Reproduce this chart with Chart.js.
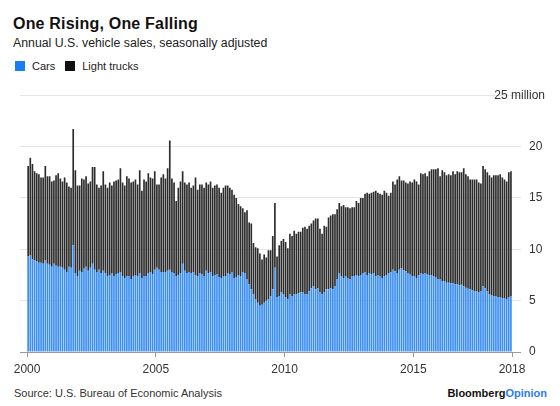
<!DOCTYPE html>
<html>
<head>
<meta charset="utf-8">
<script src="https://cdn.jsdelivr.net/npm/chart.js@4.4.1/dist/chart.umd.min.js"></script>
<style>
    body { margin: 0; width: 560px; height: 406px; background: #fff; position: relative; overflow: hidden;
           font-family: 'Liberation Sans', Arial, sans-serif; color: #222; }
    .txt { position: absolute; line-height: 1; white-space: nowrap; }
    #title { left: 13px; top: 15.8px; font-size: 16px; font-weight: bold; letter-spacing: 0.2px; color: #111; }
    #subtitle { left: 13px; top: 37.3px; font-size: 12.3px; color: #222; }
    #legend { left: 15px; top: 61.2px; font-size: 11px; color: #222; }
    #legend .sw { display: inline-block; width: 10px; height: 10px; vertical-align: -1px; margin-right: 7px; }
    #source { left: 14px; top: 387.5px; font-size: 11px; color: #333; }
    #brand { right: 13px; top: 387.5px; font-size: 11px; font-weight: bold; color: #111; }
    #brand span { color: #2b7bf3; }
    #wrap { position: absolute; left: 0; top: 80px; width: 560px; height: 300px; }
</style>
</head>
<body>
<div class="txt" id="title">One Rising, One Falling</div>
<div class="txt" id="subtitle">Annual U.S. vehicle sales, seasonally adjusted</div>
<div class="txt" id="legend"><span class="sw" style="background:#1a7cf5"></span>Cars<span class="sw" style="background:#111;margin-left:10px"></span>Light trucks</div>
<div id="wrap"><canvas id="chart"></canvas></div>
<div class="txt" id="source">Source: U.S. Bureau of Economic Analysis</div>
<div class="txt" id="brand">Bloomberg<span>Opinion</span></div>

<script>
// monthly, Jan 2000 - Oct 2018, millions of units (SAAR)
const startYear = 2000;
const yearTicks = [2000, 2005, 2010, 2015, 2018];

const cars = [
    9.3, 9.4, 9.0, 8.9, 8.8, 8.7, 8.7, 8.6, 8.9, 8.6, 8.5, 8.3,
    8.6, 8.4, 8.3, 8.3, 8.2, 8.0, 7.8, 8.3, 8.2, 10.4, 7.7, 7.4,
    7.9, 7.8, 8.1, 8.3, 7.9, 8.2, 8.6, 8.0, 7.8, 8.0, 7.7, 7.9,
    7.7, 7.4, 7.5, 7.7, 7.4, 7.6, 7.7, 7.8, 7.4, 7.2, 7.4, 7.4,
    7.1, 7.4, 7.5, 7.4, 7.7, 7.2, 7.4, 7.4, 7.7, 7.8, 7.6, 8.0,
    8.2, 8.0, 7.8, 7.8, 7.8, 7.9, 8.0, 7.8, 7.7, 7.4, 7.5, 7.7,
    8.6, 7.9, 7.7, 7.8, 7.7, 7.8, 7.5, 7.4, 7.7, 7.6, 7.4, 7.9,
    7.7, 7.8, 7.4, 7.5, 7.6, 7.3, 7.2, 7.4, 7.4, 7.7, 7.6, 7.8,
    7.2, 7.3, 7.5, 7.4, 7.8, 7.7, 7.05, 6.6, 6.1, 5.6, 5.1, 4.8,
    4.5, 4.6, 4.8, 5.0, 5.1, 5.45, 6.1, 8.2, 5.3, 5.45, 5.8, 5.6,
    5.3, 5.1, 5.6, 5.45, 5.6, 5.6, 5.7, 5.8, 5.85, 5.6, 5.6, 5.9,
    6.2, 6.4, 6.1, 6.2, 5.8, 5.6, 5.8, 6.1, 6.1, 6.2, 6.1, 6.4,
    7.05, 7.7, 7.4, 7.2, 7.4, 7.2, 7.05, 7.4, 7.4, 7.5, 7.4, 7.5,
    7.7, 7.75, 7.5, 7.7, 7.6, 7.7, 7.4, 7.5, 7.4, 7.2, 7.4, 7.5,
    7.7, 7.75, 8.0, 7.85, 7.7, 8.0, 8.15, 7.95, 7.85, 7.7, 7.6, 7.4,
    7.35, 7.2, 7.45, 7.7, 7.6, 7.7, 7.6, 7.5, 7.45, 7.35, 7.3, 7.1,
    7.05, 6.9, 6.9, 6.75, 6.75, 6.7, 6.7, 6.6, 6.6, 6.5, 6.55, 6.4,
    6.25, 6.15, 6.1, 6.0, 5.9, 5.9, 5.8, 5.9, 6.4, 6.2, 5.9, 5.6,
    5.5, 5.45, 5.4, 5.35, 5.3, 5.25, 5.2, 5.15, 5.3, 5.45
];

// top of each stacked bar (cars + light trucks)
const totals = [
    18.1, 18.9, 18.3, 17.6, 17.4, 17.3, 17.0, 17.0, 18.1, 17.1, 17.1, 16.6,
    16.7, 17.2, 17.4, 16.9, 16.6, 17.0, 16.5, 16.1, 16.0, 21.7, 17.7, 16.2,
    16.2, 16.9, 16.8, 17.1, 16.4, 16.6, 18.0, 18.0, 16.3, 16.0, 16.2, 17.6,
    16.3, 16.0, 16.5, 16.2, 16.6, 16.7, 16.8, 17.9, 16.5, 16.2, 17.1, 16.9,
    16.5, 16.6, 16.8, 16.3, 17.7, 15.7, 16.8, 16.6, 17.4, 17.0, 16.9, 17.6,
    16.3, 16.3, 17.0, 17.3, 16.9, 17.9, 20.6, 16.9, 16.5, 14.7, 16.0, 16.6,
    17.6, 16.5, 16.3, 16.5, 16.0, 16.2, 17.0, 15.8, 16.3, 16.3, 16.0, 16.5,
    16.3, 16.6, 16.0, 16.2, 16.3, 16.0, 15.5, 16.0, 16.2, 16.2, 16.0, 15.8,
    15.3, 15.0, 14.4, 14.2, 14.0, 13.6, 13.8, 12.6, 12.5, 10.6, 10.2, 10.1,
    9.6, 9.0, 9.5, 9.2, 9.9, 9.9, 11.3, 14.5, 9.3, 10.4, 10.8, 11.0,
    10.7, 10.1, 11.5, 11.3, 11.8, 11.5, 11.7, 11.7, 12.1, 12.2, 12.0, 12.3,
    12.5, 12.8, 13.0, 13.0, 12.0, 11.5, 12.3, 12.2, 13.1, 13.3, 13.4, 13.4,
    13.9, 14.5, 14.2, 14.3, 14.1, 14.1, 14.0, 14.1, 14.1, 14.7, 14.5, 15.0,
    15.0, 15.4, 15.5, 15.4, 15.5, 15.6, 15.7, 15.5, 15.4, 15.3, 15.7, 15.5,
    15.2, 15.5, 16.6, 16.3, 16.8, 17.1, 16.7, 16.7, 16.5, 16.4, 16.6, 16.5,
    16.8, 16.6, 16.3, 17.4, 17.3, 17.4, 17.1, 17.6, 17.8, 17.8, 17.8, 17.9,
    17.1, 17.7, 17.5, 17.2, 17.3, 17.2, 17.6, 17.3, 17.6, 17.5, 17.5, 17.9,
    17.3, 17.1, 16.8, 16.8, 16.8, 16.8, 16.5, 16.4, 18.1, 17.8, 17.5, 17.2,
    17.0, 17.2, 17.2, 17.2, 17.3, 17.0, 16.8, 16.6, 17.5, 17.6
];

const lightTrucks = totals.map((t, i) => +(t - cars[i]).toFixed(2));

// tick values sit on the month boundaries; last one closes the axis
const tickValues = yearTicks.map((y, i) =>
    i === yearTicks.length - 1 ? cars.length - 0.5 : (y - startYear) * 12 - 0.5);

const FONT = "'Liberation Sans', Arial, sans-serif";

const topLabel = {
    id: 'topLabel',
    afterDraw(chart) {
        const y = chart.scales.y;
        const c = chart.ctx;
        c.save();
        c.font = '12px ' + FONT;
        c.fillStyle = '#333';
        c.textAlign = 'right';
        c.textBaseline = 'middle';
        c.fillText('25 million', 545, y.getPixelForValue(25));
        c.restore();
    }
};

const ctx = document.getElementById('chart').getContext('2d');
new Chart(ctx, {
    type: 'bar',
    data: {
        datasets: [{
            label: 'Cars',
            data: cars.map((v, i) => ({ x: i, y: v })),
            backgroundColor: '#3a8ef2',
            borderWidth: 0
        }, {
            label: 'Light trucks',
            data: lightTrucks.map((v, i) => ({ x: i, y: v })),
            backgroundColor: '#2c2c2c',
            borderWidth: 0
        }]
    },
    options: {
        responsive: true,
        maintainAspectRatio: false,
        animation: false,
        categoryPercentage: 1,
        barPercentage: 0.78,
        layout: { padding: { left: 20, right: 0, top: 11, bottom: 0 } },
        plugins: {
            legend: { display: false },
            tooltip: { enabled: false }
        },
        scales: {
            x: {
                type: 'linear',
                stacked: true,
                offset: false,
                bounds: 'data',
                min: -3.8,
                max: cars.length - 0.5,
                afterBuildTicks: scale => { scale.ticks = tickValues.map(v => ({ value: v })); },
                afterFit: scale => { scale.height = 28; },
                grid: {
                    offset: false,
                    drawOnChartArea: false,
                    drawTicks: true,
                    tickLength: 5,
                    color: '#999'
                },
                border: { display: false },
                ticks: {
                    autoSkip: false,
                    maxRotation: 0,
                    padding: 5,
                    color: '#333',
                    font: { family: FONT, size: 12 },
                    callback: (value, index) => String(yearTicks[index])
                }
            },
            y: {
                position: 'right',
                stacked: true,
                min: 0,
                max: 25,
                afterFit: scale => { scale.width = 48; },
                grid: {
                    color: c => c.tick && c.tick.value === 0 ? '#9a9a9a' : '#e6e6e6',
                    drawTicks: true,
                    tickLength: 9
                },
                border: { display: false },
                ticks: {
                    stepSize: 5,
                    padding: 8,
                    color: '#333',
                    font: { family: FONT, size: 12 },
                    callback: value => value === 25 ? '' : value
                }
            }
        }
    },
    plugins: [topLabel]
});
</script>
</body>
</html>
